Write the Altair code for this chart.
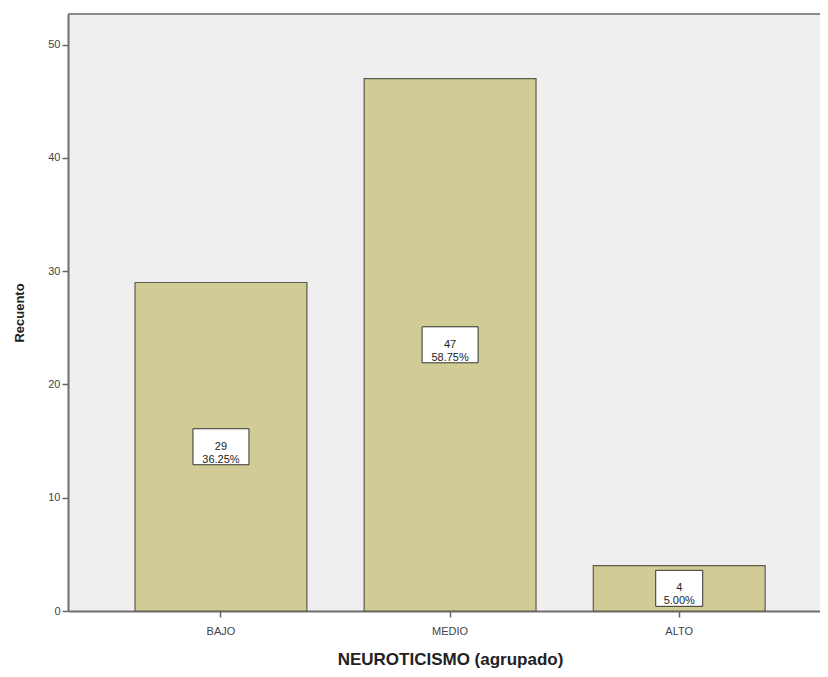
import altair as alt
import pandas as pd

categories = ["BAJO", "MEDIO", "ALTO"]
counts = [29, 47, 4]
percents = [36.25, 58.75, 5.00]

df = pd.DataFrame({"cat": categories, "count": counts, "pct": percents})

W, H = 752, 597
FONT = "Liberation Sans"

x_enc = alt.X(
    "cat:N",
    sort=categories,
    title="NEUROTICISMO (agrupado)",
    scale=alt.Scale(paddingInner=0.25, paddingOuter=0.266, align=0.55),
    axis=alt.Axis(
        labelAngle=0, labelFont=FONT, labelFontSize=11, labelColor="#444444",
        labelPadding=8, tickSize=6, tickColor="#666666", tickWidth=1.5,
        domainColor="#6e6e6e", domainWidth=2,
        titleFont=FONT, titleFontSize=17, titleFontWeight="bold", titleColor="#222222",
        titlePadding=15, titleX=382,
    ),
)
y_scale = alt.Scale(domain=[0, 52.7], nice=False)
y_axis = alt.Axis(
    values=[0, 10, 20, 30, 40, 50], grid=False,
    labelFont=FONT, labelFontSize=11, labelColor="#444444", labelPadding=2,
    tickSize=6, tickColor="#666666", tickWidth=1.5,
    domainColor="#6e6e6e", domainWidth=2,
    titleFont=FONT, titleFontSize=13, titleFontWeight="bold", titleColor="#222222",
    titlePadding=21,
)

bars = alt.Chart(df).mark_bar(
    color="#d1cc95", stroke="#5c5c48", strokeWidth=1.2
).encode(
    x=x_enc,
    y=alt.Y("count:Q", title="Recuento", scale=y_scale, axis=y_axis),
)

base = alt.Chart(df).transform_calculate(
    mid="datum.count / 2",
    label="datum.count + '\\n' + format(datum.pct, '.2f') + '%'",
)

box_wide = base.transform_filter("datum.count >= 10").mark_rect(
    width=56, height=36, fill="white", stroke="#333333", strokeWidth=1
).encode(x=alt.X("cat:N", sort=categories), y=alt.Y("mid:Q", scale=y_scale))

box_narrow = base.transform_filter("datum.count < 10").mark_rect(
    width=47, height=36, fill="white", stroke="#333333", strokeWidth=1
).encode(x=alt.X("cat:N", sort=categories), y=alt.Y("mid:Q", scale=y_scale))

labels = base.mark_text(
    font=FONT, fontSize=11, color="#222222", lineBreak="\n",
    lineHeight=13, baseline="middle", align="center"
).encode(x=alt.X("cat:N", sort=categories), y=alt.Y("mid:Q", scale=y_scale), text="label:N")

top_line = alt.Chart(df).mark_rule(color="#8a8a8a", strokeWidth=2).encode(
    x=alt.value(0), x2=alt.value(W), y=alt.value(0)
)

chart = alt.layer(bars, box_wide, box_narrow, labels, top_line).properties(
    width=W, height=H,
    autosize="none",
    padding={"left": 60, "top": 6, "right": 0, "bottom": 58},
    background="white",
).configure_view(fill="#efefef", stroke=None)

chart.save("out.html", embed_options={"renderer": "svg", "actions": False})
